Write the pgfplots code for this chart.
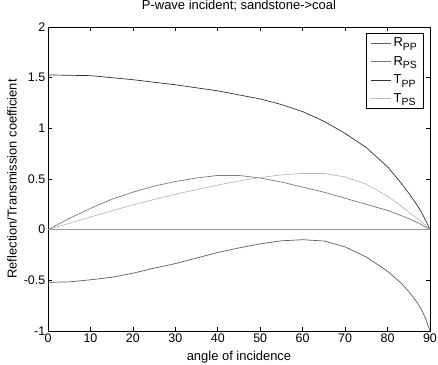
\documentclass[border=0pt]{standalone}
\usepackage{fontspec}
\setmainfont{Liberation Sans}
\usepackage{pgfplots}
\pgfplotsset{compat=1.18}
\definecolor{cRPP}{HTML}{5E5E5E}
\definecolor{cRPS}{HTML}{7A7A7A}
\definecolor{cTPP}{HTML}{333333}
\definecolor{cTPS}{HTML}{BBBBBB}
\definecolor{cZero}{HTML}{999999}
\newcommand\sub[1]{\raisebox{-3.5bp}{\fontsize{10.5}{12}\selectfont #1}}
\begin{document}
\begin{tikzpicture}
\path[use as bounding box] (-48bp,-34bp) rectangle (390bp,331bp);
\begin{axis}[
  scale only axis, width=382bp, height=304bp,
  at={(0,0)}, anchor=south west,
  xmin=0, xmax=90, ymin=-1, ymax=2,
  xtick={0,10,...,90}, ytick={-1,-0.5,0,0.5,1,1.5,2},
  tick align=inside, tick pos=both,
  major tick length=4bp,
  axis line style={line width=0.9bp, black},
  every tick/.style={black, line width=0.7bp},
  font=\fontsize{12.5}{15}\selectfont,
  /pgf/number format/assume math mode=true,
  yticklabel style={/pgf/number format/fixed, inner sep=2.5bp},
  xticklabel style={inner sep=2.5bp},
  title={P-wave incident; sandstone->coal},
  title style={at={(axis description cs:0.5,1.0493)}, anchor=center, font=\fontsize{13}{15}\selectfont},
  xlabel={angle of incidence},
  xlabel style={at={(axis description cs:0.5,-0.0855)}, anchor=center, font=\fontsize{13}{15}\selectfont},
  ylabel={Reflection/Transmission coefficient},
  ylabel style={at={(axis description cs:-0.0942,0.5)}, anchor=center, font=\fontsize{13}{15}\selectfont},
  legend style={at={(axis description cs:0.984,0.9803)}, anchor=north east,
    draw=black, line width=0.9bp, inner xsep=4bp, inner ysep=2bp,
    row sep=3bp, font=\fontsize{13}{15}\selectfont, cells={anchor=west},
    nodes={inner sep=2.5bp}},
  legend image code/.code={\draw[line width=0.7bp] (0bp,0bp) -- (20bp,0bp);},
  legend cell align=left,
]
\addplot[cRPP, line width=0.7bp] coordinates {
(0,-0.52) (5,-0.515) (10,-0.495) (15,-0.47) (20,-0.43) (25,-0.38) (30,-0.335)
(35,-0.28) (40,-0.225) (45,-0.18) (50,-0.14) (55,-0.11) (60,-0.099) (65,-0.112)
(70,-0.17) (75,-0.27) (80,-0.41) (83,-0.52) (85,-0.61) (87,-0.72) (88,-0.79) (89,-0.88) (90,-1.0)};
\addlegendentry{R\sub{PP}}
\addplot[cRPS, line width=0.7bp] coordinates {
(0,0) (5,0.11) (10,0.21) (15,0.30) (20,0.37) (25,0.43) (30,0.475) (35,0.51)
(40,0.535) (45,0.535) (50,0.51) (55,0.47) (60,0.42) (65,0.37) (70,0.31)
(75,0.25) (80,0.19) (85,0.11) (88,0.05) (90,0)};
\addlegendentry{R\sub{PS}}
\addplot[cTPP, line width=0.7bp] coordinates {
(0,1.527) (10,1.52) (20,1.48) (30,1.43) (40,1.37) (45,1.33) (50,1.29) (55,1.235)
(60,1.165) (65,1.07) (70,0.95) (75,0.81) (80,0.62) (83,0.47) (85,0.36) (87,0.24)
(88,0.17) (89,0.09) (90,0)};
\addlegendentry{T\sub{PP}}
\addplot[cTPS, line width=0.7bp] coordinates {
(0,0) (10,0.125) (20,0.245) (30,0.35) (40,0.44) (45,0.48) (50,0.515) (55,0.54)
(60,0.555) (65,0.555) (70,0.52) (75,0.45) (80,0.33) (83,0.24) (85,0.17) (87,0.11)
(88,0.08) (89,0.04) (90,0)};
\addlegendentry{T\sub{PS}}
\addplot[cZero, line width=1.3bp, forget plot] coordinates {(0,0) (90,0)};
\end{axis}
\end{tikzpicture}
\end{document}
